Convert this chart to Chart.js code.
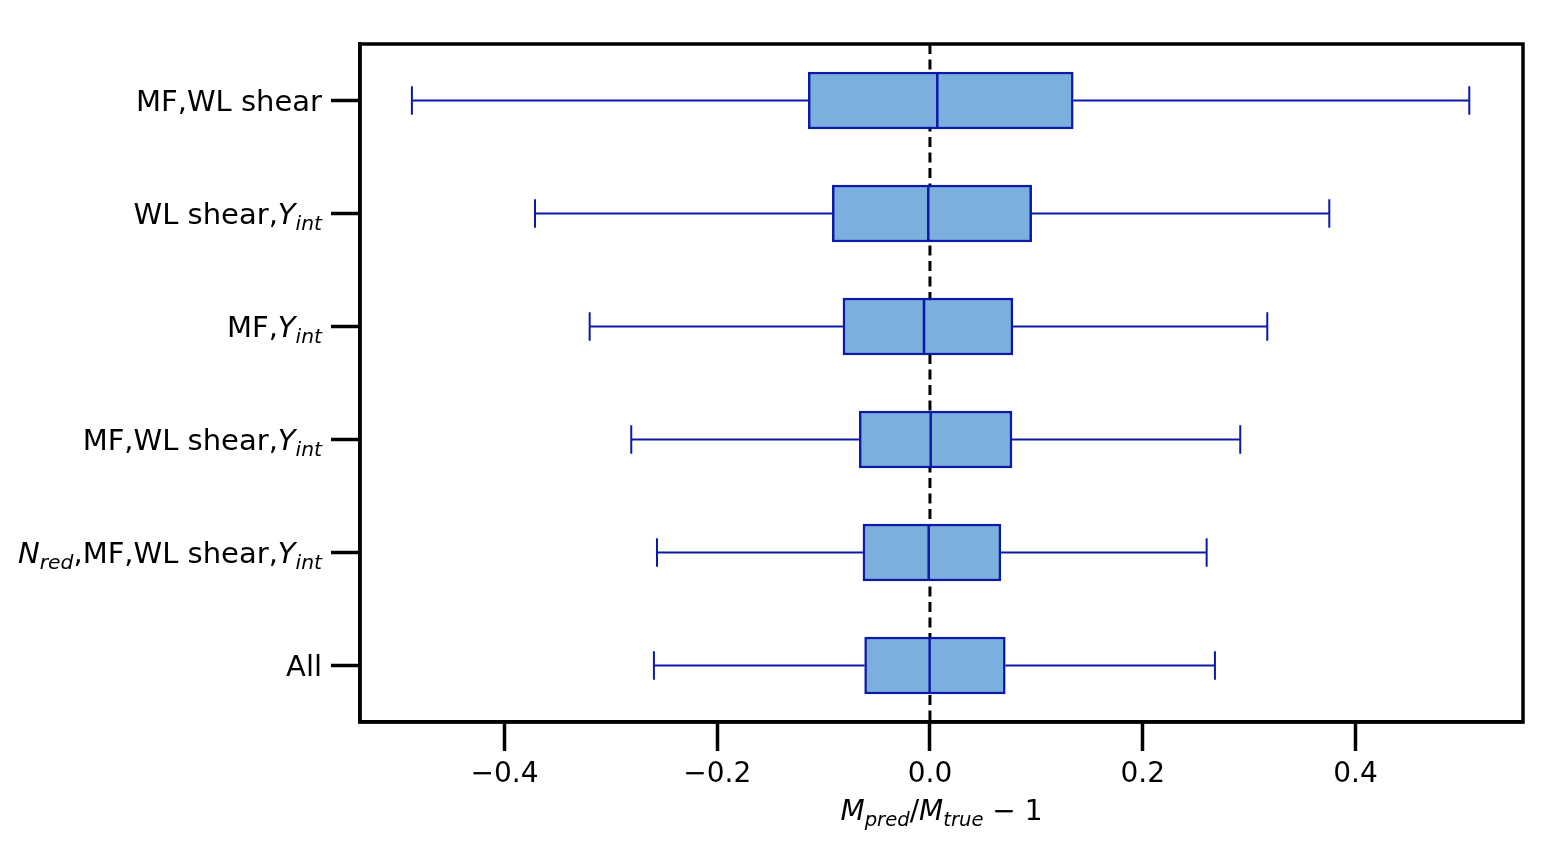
<!DOCTYPE html>
<html>
<head>
<meta charset="utf-8">
<script src="https://cdn.jsdelivr.net/npm/chart.js@4/dist/chart.umd.min.js"></script>
<style>
  html, body { margin: 0; padding: 0; background: #ffffff; }
  #wrap { width: 1567px; height: 846px; position: relative; }
</style>
</head>
<body>
<div id="wrap"><canvas id="c"></canvas></div>
<script>
// ---------------- data ----------------
const categories = [
  'MF,WL shear',
  'WL shear,$Y_{int}$',
  'MF,$Y_{int}$',
  'MF,WL shear,$Y_{int}$',
  '$N_{red}$,MF,WL shear,$Y_{int}$',
  'All'
];
const whiskerLow  = [-0.487, -0.3713, -0.3199, -0.2808, -0.2566, -0.2595];
const quartile1   = [-0.1144, -0.0918, -0.0818, -0.0665, -0.0630, -0.0614];
const medians     = [0.0069, -0.0016, -0.0056, 0.0007, -0.0012, -0.0003];
const quartile3   = [0.1347, 0.0956, 0.0780, 0.0771, 0.0667, 0.0708];
const whiskerHigh = [0.507, 0.3754, 0.3171, 0.2917, 0.2601, 0.2679];
const xTickValues = [-0.4, -0.2, 0.0, 0.2, 0.4];
const xAxisTitle  = '$M_{pred}/M_{true} - 1$';
const referenceLine = 0.0;

// ---------------- style ----------------
const FONT = "'DejaVu Sans', 'Liberation Sans', sans-serif";
const FS = 28;
const FS_Y = 29;
const BOX_FILL = 'rgb(122,175,222)';
const BOX_EDGE = 'rgb(12,26,168)';

// mathtext-like parser -> segments
function parseRich(str) {
  const segs = [];
  const parts = str.split('$');
  parts.forEach((p, i) => {
    if (!p) return;
    if (i % 2 === 0) { segs.push({ t: p, it: false, sub: false }); return; }
    const re = /([A-Za-z])(?:_\{([^}]*)\})?|(\d+(?:\.\d+)?)|(-)|(\/)|(\s+)/g;
    let m;
    while ((m = re.exec(p)) !== null) {
      if (m[1]) {
        segs.push({ t: m[1], it: true, sub: false });
        if (m[2]) segs.push({ t: m[2], it: true, sub: true });
      } else if (m[3]) segs.push({ t: m[3], it: false, sub: false });
      else if (m[4]) segs.push({ t: ' \u2212 ', it: false, sub: false });
      else if (m[5]) segs.push({ t: '/', it: false, sub: false });
    }
  });
  return segs;
}
function segFont(s, fs) {
  const size = s.sub ? fs * 0.7 : fs;
  return (s.it ? 'italic ' : '') + size + 'px ' + FONT;
}
function drawRich(ctx, str, x, baseline, align, fs) {
  const segs = parseRich(str);
  let total = 0;
  const widths = segs.map(s => { ctx.font = segFont(s, fs); const w = ctx.measureText(s.t).width; total += w; return w; });
  let cx = align === 'right' ? x - total : (align === 'center' ? x - total / 2 : x);
  ctx.textAlign = 'left';
  ctx.textBaseline = 'alphabetic';
  ctx.fillStyle = '#000';
  segs.forEach((s, i) => {
    ctx.font = segFont(s, fs);
    ctx.fillText(s.t, cx, baseline + (s.sub ? fs * 0.2 : 0));
    cx += widths[i];
  });
}

const boxPlugin = {
  id: 'boxExtras',
  beforeDatasetsDraw(chart) {
    const { ctx, chartArea, scales } = chart;
    const x0 = scales.x.getPixelForValue(referenceLine);
    ctx.save();
    ctx.strokeStyle = '#000';
    ctx.lineWidth = 3;
    ctx.setLineDash([10, 5.5]);
    ctx.beginPath();
    ctx.moveTo(x0, chartArea.top);
    ctx.lineTo(x0, chartArea.bottom);
    ctx.stroke();
    ctx.restore();
  },
  afterDatasetsDraw(chart) {
    const { ctx, scales } = chart;
    const xs = scales.x, ys = scales.y;
    const meta = chart.getDatasetMeta(0);
    ctx.save();
    ctx.strokeStyle = BOX_EDGE;
    ctx.lineCap = 'butt';
    categories.forEach((c, i) => {
      const y = ys.getPixelForValue(i);
      const bar = meta.data[i];
      const h = bar ? bar.height : 57;
      const capH = h / 2;
      const xl = xs.getPixelForValue(whiskerLow[i]);
      const xq1 = xs.getPixelForValue(quartile1[i]);
      const xm = xs.getPixelForValue(medians[i]);
      const xq3 = xs.getPixelForValue(quartile3[i]);
      const xh = xs.getPixelForValue(whiskerHigh[i]);
      ctx.lineWidth = 2;
      ctx.beginPath();
      ctx.moveTo(xl, y); ctx.lineTo(xq1, y);
      ctx.moveTo(xq3, y); ctx.lineTo(xh, y);
      ctx.moveTo(xl, y - capH / 2); ctx.lineTo(xl, y + capH / 2);
      ctx.moveTo(xh, y - capH / 2); ctx.lineTo(xh, y + capH / 2);
      ctx.stroke();
      ctx.lineWidth = 2.5;
      ctx.beginPath();
      ctx.moveTo(xm, y - h / 2); ctx.lineTo(xm, y + h / 2);
      ctx.stroke();
    });
    ctx.restore();
  },
  afterDraw(chart) {
    const { ctx, chartArea, scales } = chart;
    ctx.save();
    // frame
    ctx.strokeStyle = '#000';
    ctx.lineWidth = 3.5;
    ctx.strokeRect(chartArea.left, chartArea.top, chartArea.right - chartArea.left, chartArea.bottom - chartArea.top);
    // y labels
    categories.forEach((c, i) => {
      const y = scales.y.getPixelForValue(i);
      drawRich(ctx, c, chartArea.left - 38, y + 10.5, 'right', FS_Y);
    });
    // x title
    drawRich(ctx, xAxisTitle, (chartArea.left + chartArea.right) / 2, 820, 'center', FS);
    ctx.restore();
  }
};

new Chart(document.getElementById('c'), {
  type: 'bar',
  data: {
    labels: categories,
    datasets: [{
      data: quartile1.map((q, i) => [q, quartile3[i]]),
      backgroundColor: BOX_FILL,
      borderColor: BOX_EDGE,
      borderWidth: 2.5,
      borderSkipped: false,
      barThickness: 57
    }]
  },
  options: {
    indexAxis: 'y',
    responsive: true,
    maintainAspectRatio: false,
    animation: false,
    events: [],
    layout: { padding: { left: 0, top: 44, right: 44, bottom: 0 } },
    plugins: { legend: { display: false }, tooltip: { enabled: false }, title: { display: false } },
    scales: {
      x: {
        type: 'linear',
        min: -0.5358,
        max: 0.5575,
        afterBuildTicks(scale) { scale.ticks = xTickValues.map(v => ({ value: v })); },
        afterFit(scale) { scale.height = 124; },
        grid: { drawOnChartArea: false, drawTicks: true, tickLength: 29, tickWidth: 3.5, tickColor: '#000' },
        border: { display: true, color: '#000', width: 3.5 },
        ticks: {
          color: '#000',
          font: { family: FONT, size: FS },
          padding: 7,
          maxRotation: 0,
          callback: (v) => (v < 0 ? '\u2212' : '') + Math.abs(v).toFixed(1)
        }
      },
      y: {
        type: 'category',
        offset: true,
        afterFit(scale) { scale.width = 360; },
        grid: { offset: false, drawOnChartArea: false, drawTicks: true, tickLength: 29, tickWidth: 3.5, tickColor: '#000' },
        border: { display: true, color: '#000', width: 3.5 },
        ticks: { display: false }
      }
    }
  },
  plugins: [boxPlugin]
});
</script>
</body>
</html>
